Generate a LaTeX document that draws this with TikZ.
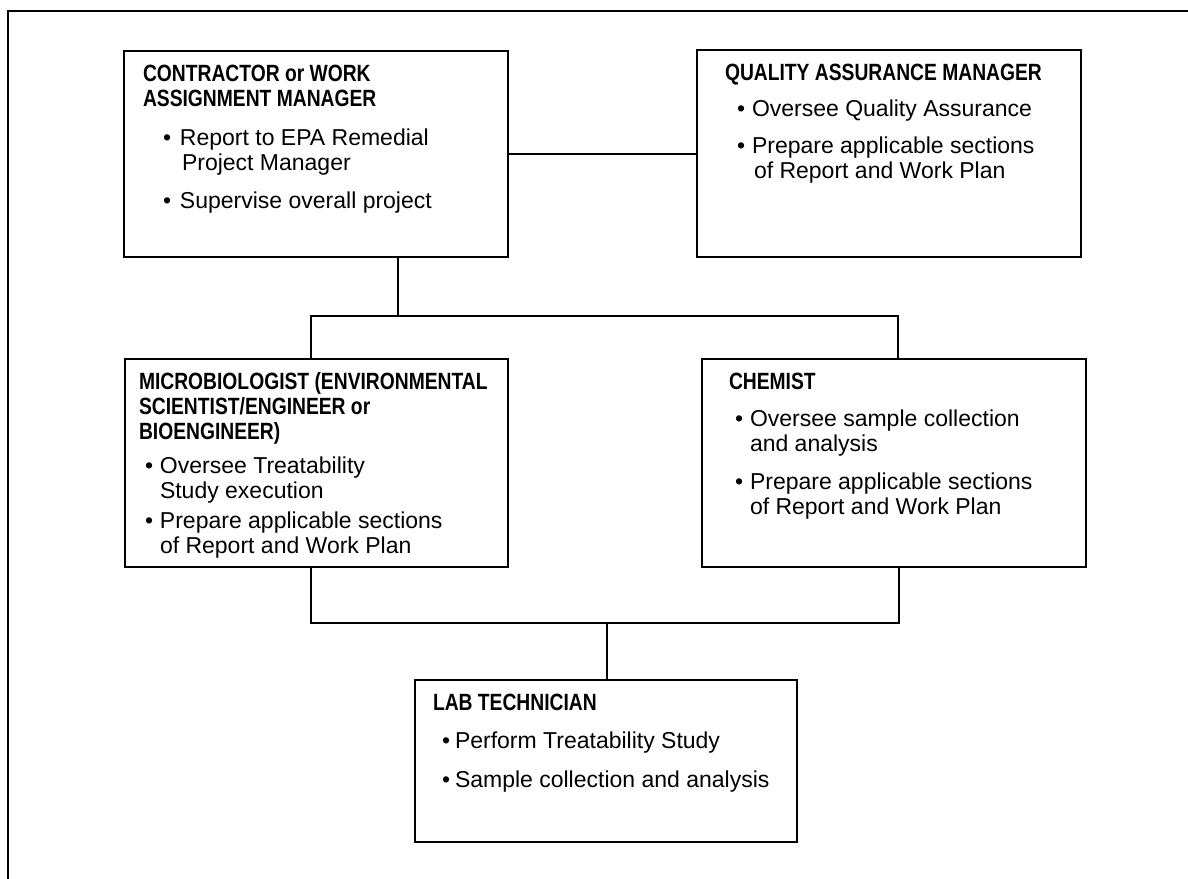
\documentclass[tikz,border=0pt]{standalone}
\usepackage{fontspec}
\usetikzlibrary{calc}
\setmainfont{Liberation Sans}
\newfontfamily\headfont[FakeStretch=0.82]{Liberation Sans Bold}
\newcommand\hd[1]{{\headfont\fontsize{23.5}{25}\selectfont #1}}
\newcommand\bl[3]{\hspace*{#1pt}\makebox[#2pt][l]{\textbullet}#3}
\newcommand\ct[2]{\hspace*{#1pt}#2}
\tikzset{
  x=1pt, y=1pt,
  box/.style={draw, line width=1.6pt, anchor=north west, inner sep=0pt, outer sep=0pt},
  txt/.style={anchor=north west, inner sep=0pt, outer sep=0pt, font=\fontsize{23}{25}\selectfont},
  conn/.style={line width=1.4pt},
  frame/.style={line width=2.2pt}
}
\begin{document}
\begin{tikzpicture}
\useasboundingbox (0,0) rectangle (1188,-878);
% outer frame (only top and left sides visible)
\coordinate (fbl) at (8,-880);
\coordinate (ftl) at (8,-11);
\coordinate (ftr) at (1192,-11);
\draw[frame] (fbl) -- (ftl) -- (ftr);

% boxes
\node[box, minimum width=384, minimum height=206] (cm) at (124,-51) {};
\node[box, minimum width=384, minimum height=207] (qa) at (697,-50) {};
\node[box, minimum width=383, minimum height=208] (mb) at (125,-359) {};
\node[box, minimum width=384, minimum height=208] (ch) at (702,-359) {};
\node[box, minimum width=382, minimum height=162] (lab) at (415,-680) {};

% texts
\node[txt] (cmt) at ($(cm.north west)+(19,-12.5)$) {\begin{tabular}{@{}l@{}}
\hd{CONTRACTOR or WORK}\\
\hd{ASSIGNMENT MANAGER}\\[14pt]
\bl{20}{17}{Report to EPA Remedial}\\
\ct{39}{Project Manager}\\[13pt]
\bl{20}{17}{Supervise overall project}
\end{tabular}};

\node[txt] (qat) at ($(qa.north west)+(28,-12.5)$) {\begin{tabular}{@{}l@{}}
\hd{QUALITY ASSURANCE MANAGER}\\[11pt]
\bl{12}{15}{Oversee Quality Assurance}\\[12pt]
\bl{12}{15}{Prepare applicable sections}\\
\ct{29}{of Report and Work Plan}
\end{tabular}};

\node[txt] (mbt) at ($(mb.north west)+(14,-12.5)$) {\begin{tabular}{@{}l@{}}
\hd{MICROBIOLOGIST (ENVIRONMENTAL}\\
\hd{SCIENTIST/ENGINEER or}\\
\hd{BIOENGINEER)}\\[9pt]
\bl{6}{15}{Oversee Treatability}\\
\ct{21}{Study execution}\\[5pt]
\bl{6}{15}{Prepare applicable sections}\\
\ct{21}{of Report and Work Plan}
\end{tabular}};

\node[txt] (cht) at ($(ch.north west)+(27,-12.5)$) {\begin{tabular}{@{}l@{}}
\hd{CHEMIST}\\[12pt]
\bl{6}{15}{Oversee sample collection}\\
\ct{21}{and analysis}\\[13pt]
\bl{6}{15}{Prepare applicable sections}\\
\ct{21}{of Report and Work Plan}
\end{tabular}};

\node[txt] (labt) at ($(lab.north west)+(18,-12.5)$) {\begin{tabular}{@{}l@{}}
\hd{LAB TECHNICIAN}\\[13pt]
\bl{9}{13}{Perform Treatability Study}\\[14pt]
\bl{9}{13}{Sample collection and analysis}
\end{tabular}};

% connectors
\draw[conn] (cm.east) -- (cm.east -| qa.west);

\coordinate (jc) at (398,-316);
\coordinate (jl) at (311,-316);
\coordinate (jr) at (898,-316);
\draw[conn] (jc |- cm.south) -- (jc);
\draw[conn] (jl |- mb.north) -- (jl) -- (jr) -- (jr |- ch.north);

\coordinate (kl) at (311,-623);
\coordinate (kr) at (899,-623);
\coordinate (kc) at (607,-623);
\draw[conn] (kl |- mb.south) -- (kl) -- (kr) -- (kr |- ch.south);
\draw[conn] (kc) -- (kc |- lab.north);
\end{tikzpicture}
\end{document}
